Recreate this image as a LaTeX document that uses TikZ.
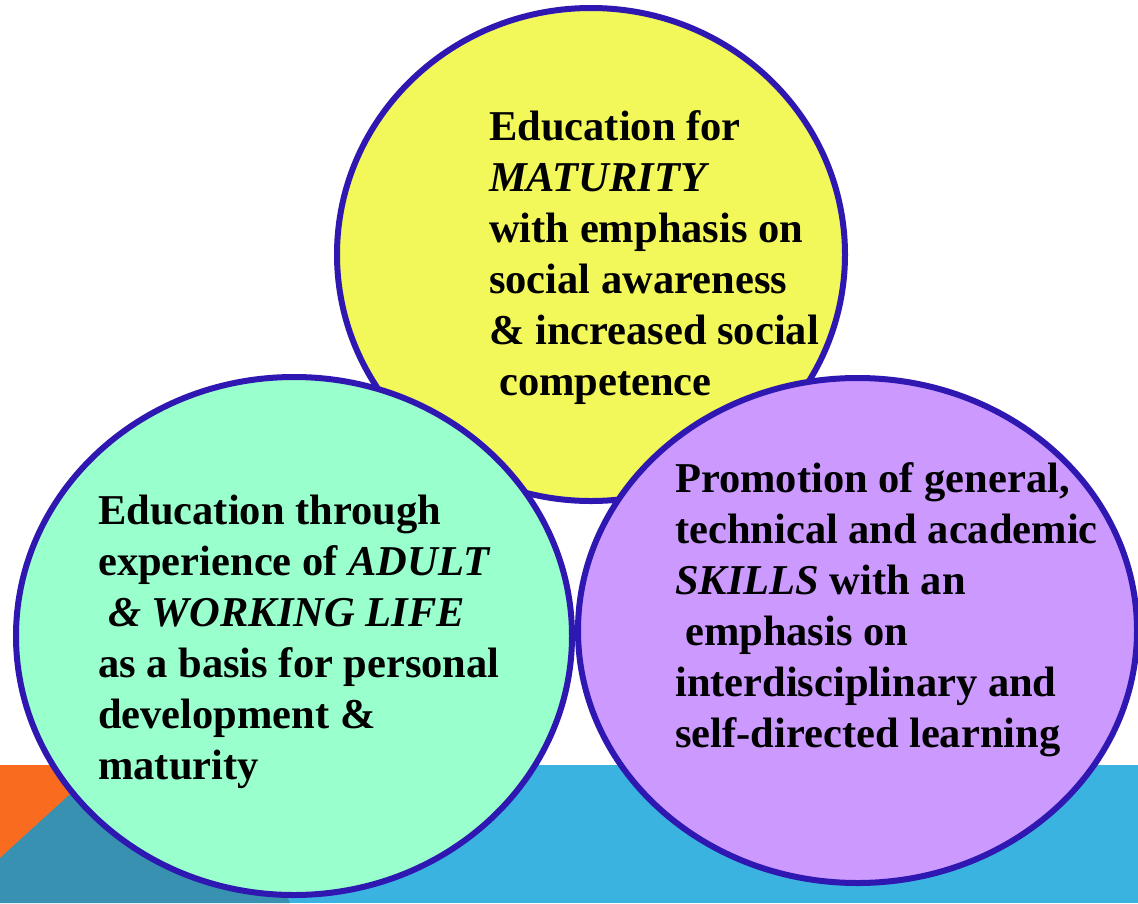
\documentclass[tikz,border=0pt]{standalone}
\usepackage{fontspec}
\setmainfont{Liberation Serif}
\usetikzlibrary{shapes.geometric}
\definecolor{ringblue}{HTML}{2F17B2}
\definecolor{sunyellow}{HTML}{F2F75A}
\definecolor{mintgreen}{HTML}{99FFCC}
\definecolor{lilac}{HTML}{CC99FF}
\definecolor{bandblue}{HTML}{3BB3E0}
\definecolor{bandteal}{HTML}{3891B0}
\definecolor{bandorange}{HTML}{F96B1F}
\tikzset{
  bubble/.style={
    ellipse,
    draw=ringblue,
    line width=6pt,
    inner sep=0pt,
  },
  bubble text/.style={
    anchor=base west,
    align=left,
    inner sep=0pt,
    font=\fontsize{42.5}{51}\selectfont\bfseries,
  }
}

\begin{document}
\begin{tikzpicture}[x=1pt,y=-1pt]
        \useasboundingbox (0,0) rectangle (1138,903);

        % band along the bottom
        \fill [bandblue] (0,765) rectangle (1138,903);
        \fill [bandorange] (0,765) rectangle (230,903);
        \fill [bandteal] (0,858) -- (102,765) -- (230,765) -- (290,903) -- (0,903) -- cycle;

        \node [bubble, fill=sunyellow, minimum width=508pt, minimum height=493pt] (maturity) at (591,254.5) {};
        \node [bubble text] (maturity text) at (489,395) {Education for\\
          \textit{MATURITY}\\
          with emphasis on\\
          social awareness\\
          \& increased social\\
          \hspace*{10pt}competence};

        \node [bubble, fill=mintgreen, minimum width=556pt, minimum height=518pt] (adult) at (294,636) {};
        \node [bubble text] (adult text) at (98,779) {Education through\\
          experience of \textit{ADULT}\\
          \hspace*{10pt}\textit{\& WORKING LIFE}\\
          as a basis for personal\\
          development \&\\
          maturity};

        \node [bubble, fill=lilac, minimum width=559pt, minimum height=505pt] (skills) at (857.5,630.5) {};
        \node [bubble text] (skills text) at (675,747) {Promotion of general,\\
          technical and academic\\
          \textit{SKILLS} with an\\
          \hspace*{10pt}emphasis on\\
          interdisciplinary and\\
          self-directed learning};
      \end{tikzpicture}
\end{document}
